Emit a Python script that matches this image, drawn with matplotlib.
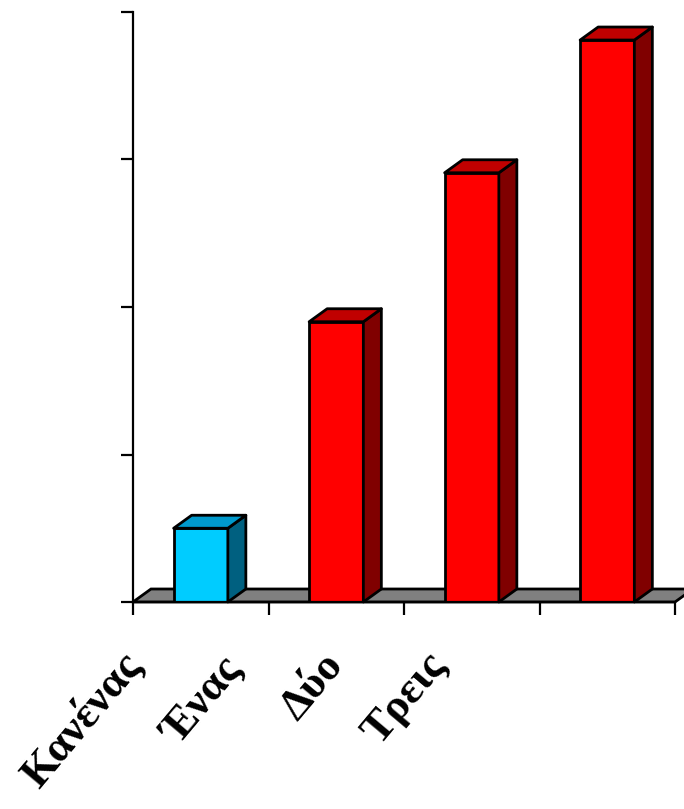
import matplotlib.pyplot as plt
from matplotlib.patches import Polygon
import numpy as np

# categories and values (axis 0..4, no tick labels shown)
categories = ['Κανένας', 'Ένας', 'Δύο', 'Τρεις']
values = [0.50, 1.90, 2.91, 3.81]
front_colors = ['#00CCFF', '#FF0000', '#FF0000', '#FF0000']
top_colors = ['#0099CC', '#C00000', '#C00000', '#C00000']
side_colors = ['#006080', '#800000', '#800000', '#800000']

# label anchor points (pixels, top-right end of rotated text)
label_px = [(116, 644), (219, 650), (321, 646), (423, 646)]

W, H = 684, 809
fig = plt.figure(figsize=(W / 100, H / 100), dpi=100)
ax = fig.add_axes([133 / W, 207 / H, (675 - 133) / W, (602 - 12) / H])

n = len(categories)
x = np.arange(n)
width = 0.4
ax.set_xlim(-0.5, n - 0.5)
ax.set_ylim(0, 4)

# depth offset of the oblique projection, in data units
dx = 18 / 135.5
dy = 13 / 147.5
lw = 2.0

# floor
floor = Polygon([(-0.5, 0), (n - 0.5, 0), (n - 0.5 + dx, dy), (-0.5 + dx, dy)],
                closed=True, facecolor='#808080', edgecolor='black', lw=lw,
                clip_on=False, zorder=1)
ax.add_patch(floor)

# bars: front face through ax.bar, top and side faces as polygons
ax.bar(x, values, width=width, color=front_colors, edgecolor='black', linewidth=lw, zorder=3)
for xi, v, tc, sc in zip(x, values, top_colors, side_colors):
    l, r = xi - width / 2, xi + width / 2
    top = Polygon([(l, v), (r, v), (r + dx, v + dy), (l + dx, v + dy)], closed=True,
                  facecolor=tc, edgecolor='black', lw=lw, joinstyle='round', zorder=3, clip_on=False)
    side = Polygon([(r, 0), (r + dx, dy), (r + dx, v + dy), (r, v)], closed=True,
                   facecolor=sc, edgecolor='black', lw=lw, joinstyle='round', zorder=3, clip_on=False)
    ax.add_patch(side)
    ax.add_patch(top)

# axes styling
for s in ['top', 'right']:
    ax.spines[s].set_visible(False)
for s in ['left', 'bottom']:
    ax.spines[s].set_linewidth(1.6)
    ax.spines[s].set_zorder(4)
ax.set_yticks(np.arange(0, 5))
ax.set_xticks(np.arange(-0.5, n, 1.0))
ax.tick_params(axis='both', direction='out', length=9, width=1.6,
               labelleft=False, labelbottom=False)

# rotated category labels
for lab, (px, py) in zip(categories, label_px):
    fig.text(px / W, 1 - py / H, lab, rotation=50, rotation_mode='anchor',
             ha='right', va='top', fontsize=32, fontweight='bold',
             family=['Liberation Serif', 'DejaVu Serif'])

fig.savefig('out.png', dpi=100)
